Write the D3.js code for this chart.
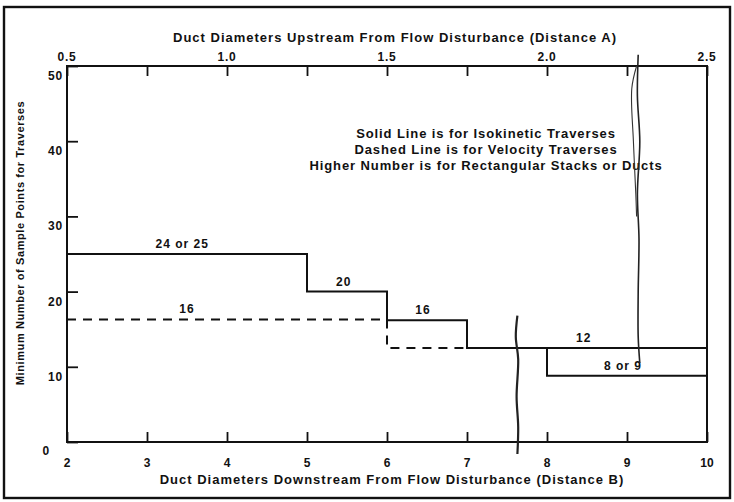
<!DOCTYPE html>
<html>
<head>
<meta charset="utf-8">
<script src="https://cdn.jsdelivr.net/npm/d3@7"></script>
<style>
  html, body { margin: 0; padding: 0; background: #fff; }
  svg { display: block; }
  text { font-family: "Liberation Sans", Arial, sans-serif; font-weight: bold; fill: #111; }
</style>
</head>
<body>
<svg id="chart" width="734" height="502"></svg>
<script>
// ---- data ----
const bottomTicks = [2, 3, 4, 5, 6, 7, 8, 9, 10];
const topTicks = [0.5, 0.75, 1.0, 1.25, 1.5, 1.75, 2.0, 2.25, 2.5];
const topLabels = ["0.5", "1.0", "1.5", "2.0", "2.5"];
const yTicks = [0, 10, 20, 30, 40, 50];

// Isokinetic traverses (solid step line): x = downstream diameters, y = points
const solidX = [2, 5, 6, 7, 10];
const solidY = [25, 20, 16.2, 12.5, 12.5];
// Rectangular lower alternative (8 or 9)
const rectX = [8, 8, 10];
const rectY = [12.5, 8.8, 8.8];
// Velocity traverses (dashed step line)
const dashX = [2, 6, 7];
const dashY = [16.3, 12.5, 12.5];

const stepLabels = ["24 or 25", "20", "16", "16", "12", "8 or 9"];
const stepLabelX = [3.44, 5.46, 3.5, 6.45, 8.46, 8.95];
const stepLabelY = [25, 20, 16.3, 16.2, 12.5, 8.8];

const noteLines = [
  "Solid Line is for Isokinetic Traverses",
  "Dashed Line is for Velocity Traverses",
  "Higher Number is for Rectangular Stacks or Ducts"
];

// ---- layout ----
const svg = d3.select("#chart");
const L = 67, R = 707, T = 66, B = 442;

const x = d3.scaleLinear().domain([2, 10]).range([L, R]);
const xTop = d3.scaleLinear().domain([0.5, 2.5]).range([L, R]);
const y = d3.scaleLinear().domain([0, 50]).range([B, T]);

// outer frame
svg.append("rect").attr("x", 4).attr("y", 7).attr("width", 726).attr("height", 491)
  .attr("fill", "none").attr("stroke", "#111").attr("stroke-width", 2.4);

// plot box
svg.append("rect").attr("x", L).attr("y", T).attr("width", R - L).attr("height", B - T)
  .attr("fill", "none").attr("stroke", "#111").attr("stroke-width", 2);

// bottom axis (inward ticks)
const gB = svg.append("g").attr("transform", `translate(0,${B})`)
  .call(d3.axisBottom(x).tickValues(bottomTicks).tickSize(-10).tickFormat(""));
gB.select(".domain").remove();
gB.selectAll(".tick line").attr("stroke", "#111").attr("stroke-width", 1.8);
svg.append("g").selectAll("text").data(bottomTicks).join("text")
  .attr("x", d => x(d)).attr("y", 467).attr("text-anchor", "middle")
  .attr("font-size", 12).text(d => d);

// top axis (inward ticks)
const gT = svg.append("g").attr("transform", `translate(0,${T})`)
  .call(d3.axisTop(xTop).tickValues(topTicks).tickSize(-10).tickFormat(""));
gT.select(".domain").remove();
gT.selectAll(".tick line").attr("stroke", "#111").attr("stroke-width", 1.8);
svg.append("g").selectAll("text").data(topLabels).join("text")
  .attr("x", d => xTop(+d)).attr("y", 61).attr("text-anchor", "middle")
  .attr("font-size", 12).attr("letter-spacing", 0.8).text(d => d);

// left axis (inward ticks)
const gL = svg.append("g").attr("transform", `translate(${L},0)`)
  .call(d3.axisLeft(y).tickValues(yTicks).tickSize(-11).tickFormat(""));
gL.select(".domain").remove();
gL.selectAll(".tick line").attr("stroke", "#111").attr("stroke-width", 1.8);
svg.append("g").selectAll("text").data(yTicks).join("text")
  .attr("x", d => d === 0 ? 50 : 63).attr("y", d => y(d) + (d === 0 ? 13 : 14))
  .attr("text-anchor", "end").attr("font-size", 12).attr("letter-spacing", 0.8).text(d => d);

// axis titles
svg.append("text").attr("x", 395).attr("y", 42).attr("text-anchor", "middle")
  .attr("font-size", 13).attr("letter-spacing", 1)
  .text("Duct Diameters Upstream From Flow Disturbance (Distance A)");
svg.append("text").attr("x", 392).attr("y", 484).attr("text-anchor", "middle")
  .attr("font-size", 13).attr("letter-spacing", 1)
  .text("Duct Diameters Downstream From Flow Disturbance (Distance B)");
svg.append("text").attr("transform", "translate(24,243) rotate(-90)")
  .attr("text-anchor", "middle").attr("font-size", 11).attr("letter-spacing", 0.6)
  .text("Minimum Number of Sample Points for Traverses");

// lines
const step = d3.line().x(d => x(d[0])).y(d => y(d[1])).curve(d3.curveStepAfter);
const lin = d3.line().x(d => x(d[0])).y(d => y(d[1]));

svg.append("path").datum(dashX.map((v, i) => [v, dashY[i]]))
  .attr("d", step).attr("fill", "none").attr("stroke", "#111")
  .attr("stroke-width", 2).attr("stroke-dasharray", "9,7");

svg.append("path").datum(solidX.map((v, i) => [v, solidY[i]]))
  .attr("d", step).attr("fill", "none").attr("stroke", "#111").attr("stroke-width", 2);

svg.append("path").datum(rectX.map((v, i) => [v, rectY[i]]))
  .attr("d", lin).attr("fill", "none").attr("stroke", "#111").attr("stroke-width", 2);

// step labels
svg.append("g").selectAll("text").data(stepLabels).join("text")
  .attr("x", (d, i) => x(stepLabelX[i]))
  .attr("y", (d, i) => y(stepLabelY[i]) - 6)
  .attr("text-anchor", "middle").attr("font-size", 12).attr("letter-spacing", 1)
  .text(d => d);

// note
svg.append("g").selectAll("text").data(noteLines).join("text")
  .attr("x", 486).attr("y", (d, i) => 138 + i * 16)
  .attr("text-anchor", "middle").attr("font-size", 13).attr("letter-spacing", 0.9)
  .text(d => d);

// scan artifacts (tape marks) drawn in data space
const mark1 = [[7.63, 16.8], [7.61, 14], [7.64, 11], [7.62, 6], [7.64, 2], [7.63, -1.6]];
const mark2 = [[9.14, 51.5], [9.13, 46], [9.16, 40], [9.13, 33], [9.15, 27], [9.14, 20], [9.14, 14], [9.16, 10.5]];
const mark3 = [[9.12, 50], [9.06, 47], [9.08, 40], [9.11, 33], [9.12, 30]];
const curvy = d3.line().x(d => x(d[0])).y(d => y(d[1])).curve(d3.curveCatmullRom);
svg.append("path").datum(mark1).attr("d", curvy).attr("fill", "none")
  .attr("stroke", "#222").attr("stroke-width", 2.2);
svg.append("path").datum(mark2).attr("d", curvy).attr("fill", "none")
  .attr("stroke", "#222").attr("stroke-width", 1.6);
svg.append("path").datum(mark3).attr("d", curvy).attr("fill", "none")
  .attr("stroke", "#333").attr("stroke-width", 1.1);
</script>
</body>
</html>
